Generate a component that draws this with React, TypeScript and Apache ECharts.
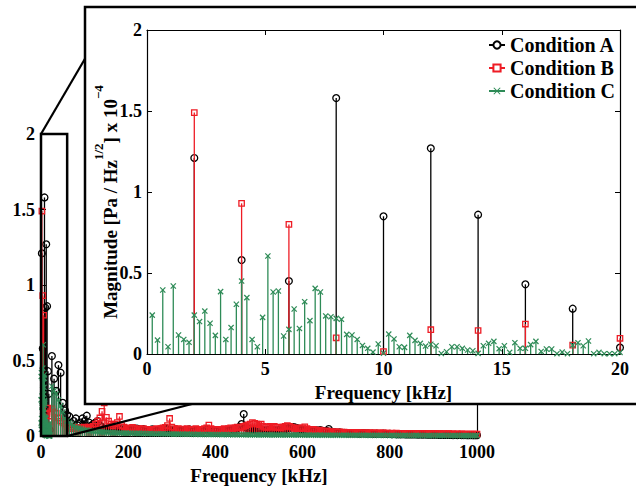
import React, { useEffect, useRef } from "react";
import * as echarts from "echarts";

// ---------- data (magnitude in units of 1e-4 Pa/Hz^1/2) ----------
const mainXTicks = [0, 200, 400, 600, 800, 1000];
const insetXTicks = [0, 5, 10, 15, 20];
const yTicks = [0, 0.5, 1, 1.5, 2];

// Conditions A and B: harmonics every 2 kHz inside 0-20 kHz
const freqAB = [2, 4, 6, 8, 10, 12, 14, 16, 18, 20];
const condA = [1.21, 0.58, 0.45, 1.58, 0.85, 1.27, 0.86, 0.43, 0.28, 0.04];
const condB = [1.49, 0.93, 0.8, 0.1, 0.015, 0.15, 0.145, 0.185, 0.055, 0.097];

// Condition C: fine resolution (2/9 kHz) inside 0-20 kHz
const stepC = 2 / 9;
const condC = [
  0.24, 0.086, 0.395, 0.045, 0.42, 0.117, 0.09, 0.072, 0.24, 0.2,
  0.265, 0.19, 0.115, 0.385, 0.09, 0.163, 0.307, 0.45, 0.348, 0.09,
  0.045, 0.226, 0.605, 0.383, 0.389, 0.111, 0.152, 0.278, 0.158, 0.323,
  0.206, 0.405, 0.383, 0.235, 0.23, 0.22, 0.214, 0.121, 0.117, 0.09,
  0.053, 0.035, 0.012, 0.062, 0.005, 0.123, 0.093, 0.045, 0.041, 0.115,
  0.084, 0.066, 0.049, 0.06, 0.051, 0.003, 0.014, 0.045, 0.045, 0.035,
  0.025, 0.02, 0.004, 0.051, 0.066, 0.078, 0.033, 0.051, 0.01, 0.07,
  0.035, 0.035, 0.058, 0.078, 0.016, 0.031, 0.031, 0.002, 0.012, 0.002,
  0.055, 0.07, 0.051, 0.08, 0.002, 0.01, 0.002, 0.002, 0.002, 0.01,
];

// Broadband part (25 ... 1000 kHz, every 5 kHz), shown in the main axes
const tailStart = 25;
const tailStep = 5;
const condATail = [
  0.53, 0.38, 0.3, 0.47, 0.42, 0.22, 0.17, 0.14, 0.13, 0.08,
  0.1, 0.117, 0.07, 0.09, 0.117, 0.1, 0.135, 0.09, 0.07, 0.08,
  0.09, 0.1, 0.07, 0.06, 0.05, 0.045, 0.05, 0.04, 0.045, 0.05,
  0.04, 0.05, 0.045, 0.04, 0.05, 0.04, 0.035, 0.045, 0.04, 0.05,
  0.045, 0.04, 0.046, 0.04, 0.035, 0.04, 0.045, 0.04, 0.035, 0.04,
  0.045, 0.04, 0.05, 0.045, 0.04, 0.035, 0.04, 0.045, 0.04, 0.035,
  0.04, 0.035, 0.04, 0.045, 0.04, 0.035, 0.04, 0.035, 0.04, 0.035,
  0.04, 0.045, 0.04, 0.035, 0.04, 0.035, 0.04, 0.035, 0.03, 0.035,
  0.04, 0.035, 0.04, 0.04, 0.045, 0.05, 0.06, 0.08, 0.146, 0.06,
  0.045, 0.04, 0.045, 0.04, 0.045, 0.04, 0.045, 0.04, 0.035, 0.04,
  0.04, 0.035, 0.04, 0.035, 0.04, 0.035, 0.04, 0.045, 0.05, 0.055,
  0.06, 0.06, 0.055, 0.05, 0.045, 0.04, 0.035, 0.03, 0.035, 0.04,
  0.035, 0.04, 0.035, 0.04, 0.035, 0.03, 0.035, 0.047, 0.03, 0.025,
  0.025, 0.022, 0.025, 0.02, 0.022, 0.02, 0.018, 0.02, 0.018, 0.02,
  0.018, 0.016, 0.018, 0.02, 0.016, 0.018, 0.015, 0.016, 0.015, 0.016,
  0.015, 0.014, 0.016, 0.015, 0.014, 0.015, 0.013, 0.014, 0.012, 0.013,
  0.012, 0.013, 0.012, 0.011, 0.012, 0.011, 0.012, 0.011, 0.01, 0.011,
  0.01, 0.011, 0.01, 0.009, 0.01, 0.009, 0.01, 0.009, 0.008, 0.009,
  0.008, 0.009, 0.008, 0.008, 0.007, 0.008, 0.007, 0.008, 0.007, 0.007,
  0.007, 0.006, 0.007, 0.006, 0.006, 0.006,
];
const condBTail = [
  0.18, 0.16, 0.15, 0.12, 0.1, 0.09, 0.08, 0.07, 0.06, 0.05,
  0.06, 0.05, 0.055, 0.058, 0.05, 0.06, 0.05, 0.06, 0.055, 0.064,
  0.08, 0.1, 0.12, 0.164, 0.22, 0.124, 0.1, 0.08, 0.07, 0.08,
  0.09, 0.13, 0.07, 0.06, 0.05, 0.055, 0.05, 0.058, 0.05, 0.045,
  0.05, 0.045, 0.05, 0.045, 0.04, 0.045, 0.04, 0.045, 0.05, 0.045,
  0.05, 0.055, 0.058, 0.07, 0.117, 0.06, 0.05, 0.045, 0.05, 0.045,
  0.046, 0.045, 0.05, 0.045, 0.04, 0.045, 0.05, 0.045, 0.04, 0.045,
  0.05, 0.055, 0.073, 0.05, 0.045, 0.04, 0.045, 0.04, 0.045, 0.05,
  0.045, 0.05, 0.055, 0.05, 0.055, 0.06, 0.055, 0.06, 0.065, 0.07,
  0.075, 0.08, 0.09, 0.085, 0.08, 0.075, 0.08, 0.065, 0.058, 0.06,
  0.065, 0.06, 0.065, 0.058, 0.06, 0.055, 0.06, 0.065, 0.07, 0.065,
  0.06, 0.055, 0.05, 0.055, 0.05, 0.055, 0.062, 0.05, 0.045, 0.04,
  0.045, 0.04, 0.035, 0.04, 0.035, 0.03, 0.035, 0.03, 0.03, 0.028,
  0.028, 0.026, 0.028, 0.025, 0.026, 0.024, 0.025, 0.024, 0.023, 0.024,
  0.023, 0.022, 0.023, 0.022, 0.021, 0.022, 0.021, 0.022, 0.021, 0.02,
  0.021, 0.02, 0.021, 0.02, 0.02, 0.019, 0.02, 0.019, 0.02, 0.019,
  0.019, 0.018, 0.019, 0.018, 0.019, 0.018, 0.018, 0.017, 0.018, 0.017,
  0.018, 0.017, 0.017, 0.016, 0.017, 0.016, 0.017, 0.016, 0.016, 0.015,
  0.016, 0.015, 0.016, 0.015, 0.015, 0.014, 0.015, 0.014, 0.015, 0.014,
  0.014, 0.014, 0.013, 0.014, 0.013, 0.013,
];
const condCTail = [
  0.33, 0.3, 0.28, 0.24, 0.2, 0.16, 0.12, 0.1, 0.09, 0.08,
  0.07, 0.06, 0.055, 0.05, 0.045, 0.04, 0.04, 0.035, 0.035, 0.03,
  0.03, 0.03, 0.028, 0.028, 0.026, 0.025, 0.025, 0.024, 0.023, 0.022,
  0.022, 0.021, 0.02, 0.021, 0.02, 0.019, 0.02, 0.019, 0.018, 0.019,
  0.018, 0.017, 0.018, 0.017, 0.016, 0.017, 0.016, 0.016, 0.015, 0.016,
  0.015, 0.015, 0.014, 0.015, 0.014, 0.014, 0.013, 0.014, 0.013, 0.013,
  0.013, 0.012, 0.013, 0.012, 0.012, 0.012, 0.011, 0.012, 0.011, 0.011,
  0.011, 0.011, 0.01, 0.011, 0.01, 0.01, 0.01, 0.01, 0.009, 0.01,
  0.01, 0.009, 0.01, 0.009, 0.009, 0.009, 0.01, 0.009, 0.009, 0.009,
  0.009, 0.008, 0.009, 0.008, 0.009, 0.008, 0.008, 0.008, 0.009, 0.008,
  0.008, 0.008, 0.007, 0.008, 0.008, 0.007, 0.008, 0.007, 0.007, 0.008,
  0.007, 0.007, 0.008, 0.007, 0.007, 0.007, 0.006, 0.007, 0.007, 0.006,
  0.007, 0.006, 0.006, 0.007, 0.006, 0.006, 0.006, 0.006, 0.005, 0.006,
  0.006, 0.005, 0.006, 0.005, 0.006, 0.005, 0.005, 0.006, 0.005, 0.005,
  0.005, 0.005, 0.005, 0.006, 0.005, 0.005, 0.004, 0.005, 0.005, 0.005,
  0.004, 0.005, 0.005, 0.004, 0.005, 0.004, 0.005, 0.004, 0.004, 0.005,
  0.004, 0.004, 0.005, 0.004, 0.004, 0.004, 0.004, 0.005, 0.004, 0.004,
  0.004, 0.004, 0.004, 0.003, 0.004, 0.004, 0.004, 0.003, 0.004, 0.004,
  0.003, 0.004, 0.004, 0.003, 0.004, 0.003, 0.003, 0.004, 0.003, 0.003,
  0.003, 0.003, 0.003, 0.003, 0.003, 0.003,
];

const zoomBoxFreq = 60; // right edge of the zoom rectangle on the main axes (kHz)

// ---------- styling ----------
const FONT = "Liberation Serif";
const BLACK = "#000000";
const RED = "#ee1c25";
const GREEN = "#2e8b57";

const names = ["Condition A", "Condition B", "Condition C"];

const pairsAB = (vals: number[]) => vals.map((v, i) => [freqAB[i], v]);
const pairsC = condC.map((v, i) => [(i + 1) * stepC, v]);
const tailPairs = (vals: number[]) => vals.map((v, i) => [tailStart + i * tailStep, v]);

const mainA = [...pairsAB(condA), ...tailPairs(condATail)];
const mainB = [...pairsAB(condB), ...tailPairs(condBTail)];
const mainC = [...pairsC, ...tailPairs(condCTail)];

type Kind = "circle" | "square" | "x";
const makeRender = (kind: Kind, color: string) => (_p: any, api: any) => {
  const x = api.value(0);
  const y = api.value(1);
  const top = api.coord([x, y]);
  const base = api.coord([x, 0]);
  const cx = top[0];
  const cy = top[1];
  const children: any[] = [
    {
      type: "line",
      shape: { x1: base[0], y1: base[1], x2: cx, y2: cy },
      style: { stroke: color, lineWidth: 1.3 },
    },
  ];
  if (kind === "circle") {
    children.push({
      type: "circle",
      shape: { cx, cy, r: 3.4 },
      style: { fill: "none", stroke: color, lineWidth: 1.3 },
    });
  } else if (kind === "square") {
    children.push({
      type: "rect",
      shape: { x: cx - 2.7, y: cy - 2.7, width: 5.4, height: 5.4 },
      style: { fill: "none", stroke: color, lineWidth: 1.3 },
    });
  } else {
    const s = 2.6;
    children.push(
      {
        type: "line",
        shape: { x1: cx - s, y1: cy - s, x2: cx + s, y2: cy + s },
        style: { stroke: color, lineWidth: 1.2 },
      },
      {
        type: "line",
        shape: { x1: cx - s, y1: cy + s, x2: cx + s, y2: cy - s },
        style: { stroke: color, lineWidth: 1.2 },
      }
    );
  }
  return { type: "group", children };
};

const tickLabel = {
  fontFamily: FONT,
  fontWeight: "bold" as const,
  fontSize: 18,
  color: BLACK,
};

const X_PATH = "path://M0,1L1,0L5,4L9,0L10,1L6,5L10,9L9,10L5,6L1,10L0,9L4,5Z";

export default function App() {
  const ref = useRef<HTMLDivElement>(null);
  useEffect(() => {
    const chart = echarts.init(ref.current!, null, { renderer: "svg" });
    const option: any = {
      animation: false,
      backgroundColor: "#ffffff",
      textStyle: { fontFamily: FONT },
      grid: [
        { left: 41, right: 636 - 477, top: 134, bottom: 490 - 437 },
        { left: 147, right: 636 - 620, top: 30, bottom: 490 - 354 },
      ],
      xAxis: [
        {
          type: "value",
          gridIndex: 0,
          min: mainXTicks[0],
          max: mainXTicks[mainXTicks.length - 1],
          interval: 200,
          axisLine: { onZero: false, lineStyle: { color: BLACK, width: 1 } },
          axisTick: { inside: true, length: 5, lineStyle: { color: BLACK } },
          axisLabel: { ...tickLabel, margin: 7, formatter: (v: number) => String(v) },
          splitLine: { show: false },
          name: "Frequency [kHz]",
          nameLocation: "middle",
          nameGap: 29,
          nameTextStyle: { fontFamily: FONT, fontWeight: "bold", fontSize: 19, color: BLACK },
          z: 0,
        },
        {
          type: "value",
          gridIndex: 1,
          min: insetXTicks[0],
          max: insetXTicks[insetXTicks.length - 1],
          interval: 5,
          axisLine: { onZero: false, lineStyle: { color: BLACK, width: 1.2 } },
          axisTick: { inside: true, length: 5, lineStyle: { color: BLACK } },
          axisLabel: { ...tickLabel, margin: 6, formatter: (v: number) => String(v) },
          splitLine: { show: false },
          name: "Frequency [kHz]",
          nameLocation: "middle",
          nameGap: 27,
          nameTextStyle: { fontFamily: FONT, fontWeight: "bold", fontSize: 19, color: BLACK },
          z: 5,
        },
        {
          type: "value",
          gridIndex: 1,
          position: "top",
          min: 0,
          max: 20,
          interval: 5,
          axisLine: { onZero: false, lineStyle: { color: BLACK, width: 1.2 } },
          axisTick: { inside: true, length: 5, lineStyle: { color: BLACK } },
          axisLabel: { show: false },
          splitLine: { show: false },
          z: 5,
        },
      ],
      yAxis: [
        {
          type: "value",
          gridIndex: 0,
          min: yTicks[0],
          max: yTicks[yTicks.length - 1],
          interval: 0.5,
          axisLine: { show: true, onZero: false, lineStyle: { color: BLACK, width: 1 } },
          axisTick: { show: true, inside: true, length: 5, lineStyle: { color: BLACK } },
          axisLabel: { ...tickLabel, margin: 6 },
          splitLine: { show: false },
          z: 0,
        },
        {
          type: "value",
          gridIndex: 0,
          position: "right",
          min: 0,
          max: 2,
          interval: 0.5,
          axisLine: { show: true, onZero: false, lineStyle: { color: BLACK, width: 1.2 } },
          axisTick: { show: true, inside: true, length: 5, lineStyle: { color: BLACK } },
          axisLabel: { show: false },
          splitLine: { show: false },
          z: 0,
        },
        {
          type: "value",
          gridIndex: 1,
          min: yTicks[0],
          max: yTicks[yTicks.length - 1],
          interval: 0.5,
          axisLine: { show: true, onZero: false, lineStyle: { color: BLACK, width: 1.2 } },
          axisTick: { show: true, inside: true, length: 5, lineStyle: { color: BLACK } },
          axisLabel: { ...tickLabel, margin: 5 },
          splitLine: { show: false },
          name: "{b|Magnitude [Pa / Hz}{s|1/2}{b|] x 10}{s|−4}",
          nameLocation: "middle",
          nameGap: 27,
          nameMoveOverlap: false,
          nameTextStyle: {
            fontFamily: FONT,
            fontWeight: "bold",
            fontSize: 19,
            color: BLACK,
            padding: [0, 20, 0, 0],
            rich: {
              b: {
                fontFamily: FONT,
                fontWeight: "bold",
                fontSize: 19,
                color: BLACK,
                lineHeight: 28,
                verticalAlign: "bottom",
              },
              s: {
                fontFamily: FONT,
                fontWeight: "bold",
                fontSize: 13,
                color: BLACK,
                lineHeight: 14,
                verticalAlign: "top",
              },
            },
          },
          z: 5,
        },
        {
          type: "value",
          gridIndex: 1,
          position: "right",
          min: 0,
          max: 2,
          interval: 0.5,
          axisLine: { show: true, onZero: false, lineStyle: { color: BLACK, width: 1.2 } },
          axisTick: { show: true, inside: true, length: 5, lineStyle: { color: BLACK } },
          axisLabel: { show: false },
          splitLine: { show: false },
          z: 5,
        },
      ],
      legend: {
        data: names,
        orient: "vertical",
        left: 483,
        top: 30,
        itemGap: 3,
        itemWidth: 16,
        itemHeight: 9,
        z: 7,
        textStyle: { fontFamily: FONT, fontWeight: "bold", fontSize: 20, color: BLACK },
      },
      series: [
        // legend carriers (no data)
        {
          name: names[0],
          type: "line",
          xAxisIndex: 1,
          yAxisIndex: 2,
          data: [],
          symbol: "emptyCircle",
          lineStyle: { color: BLACK, width: 1.3 },
          itemStyle: { color: BLACK },
        },
        {
          name: names[1],
          type: "line",
          xAxisIndex: 1,
          yAxisIndex: 2,
          data: [],
          symbol: "emptyRect",
          lineStyle: { color: RED, width: 1.3 },
          itemStyle: { color: RED },
        },
        {
          name: names[2],
          type: "line",
          xAxisIndex: 1,
          yAxisIndex: 2,
          data: [],
          symbol: X_PATH,
          lineStyle: { color: GREEN, width: 1.3 },
          itemStyle: { color: GREEN },
        },
        // main axes
        { name: names[0], type: "custom", xAxisIndex: 0, yAxisIndex: 0, z: 2, data: mainA, renderItem: makeRender("circle", BLACK) },
        { name: names[1], type: "custom", xAxisIndex: 0, yAxisIndex: 0, z: 2, data: mainB, renderItem: makeRender("square", RED) },
        { name: names[2], type: "custom", xAxisIndex: 0, yAxisIndex: 0, z: 2, data: mainC, renderItem: makeRender("x", GREEN) },
        // inset axes
        { name: names[0], type: "custom", xAxisIndex: 1, yAxisIndex: 2, z: 6, data: pairsAB(condA), renderItem: makeRender("circle", BLACK) },
        { name: names[1], type: "custom", xAxisIndex: 1, yAxisIndex: 2, z: 6, data: pairsAB(condB), renderItem: makeRender("square", RED) },
        { name: names[2], type: "custom", xAxisIndex: 1, yAxisIndex: 2, z: 6, data: pairsC, renderItem: makeRender("x", GREEN) },
      ],
    };
    chart.setOption(option);

    const tl = chart.convertToPixel({ xAxisIndex: 0, yAxisIndex: 0 } as any, [0, 2]) as number[];
    const br = chart.convertToPixel({ xAxisIndex: 0, yAxisIndex: 0 } as any, [zoomBoxFreq, 0]) as number[];
    chart.setOption({
      graphic: [
        {
          type: "rect",
          z: 3,
          shape: { x: tl[0], y: tl[1], width: br[0] - tl[0], height: br[1] - tl[1] },
          style: { fill: "none", stroke: BLACK, lineWidth: 2.5 },
        },
        {
          type: "line",
          z: 3,
          shape: { x1: tl[0], y1: tl[1], x2: 86, y2: 57 },
          style: { stroke: BLACK, lineWidth: 2.2 },
        },
        {
          type: "line",
          z: 3,
          shape: { x1: br[0], y1: br[1], x2: 192, y2: 404 },
          style: { stroke: BLACK, lineWidth: 2.2 },
        },
        {
          type: "rect",
          z: 4,
          shape: { x: 85, y: 7, width: 600, height: 397 },
          style: { fill: "#ffffff", stroke: BLACK, lineWidth: 2.5 },
        },
      ],
    });
    return () => chart.dispose();
  }, []);
  return (
    <div
      ref={ref}
      style={{ position: "absolute", left: 0, top: 0, width: 636, height: 490 }}
    />
  );
}
